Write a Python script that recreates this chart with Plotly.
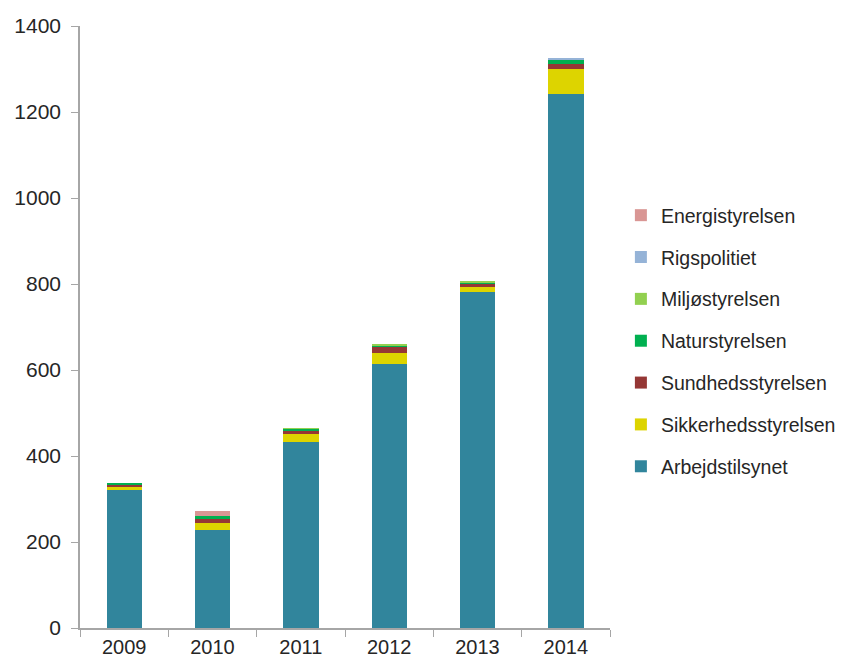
import plotly.graph_objects as go

years = ["2009", "2010", "2011", "2012", "2013", "2014"]
series_names = ["Arbejdstilsynet", "Sikkerhedsstyrelsen", "Sundhedsstyrelsen",
                "Naturstyrelsen", "Miljøstyrelsen", "Rigspolitiet", "Energistyrelsen"]
arbejdstilsynet = [323, 229, 433, 614, 781, 1242]
sikkerhedsstyrelsen = [4, 16, 18, 26, 12, 58]
sundhedsstyrelsen = [7, 8, 8, 14, 9, 11]
naturstyrelsen = [2, 8, 4, 2, 2, 11]
miljostyrelsen = [0, 0, 2, 3, 2, 0]
rigspolitiet = [0, 0, 0, 0, 0, 4]
energistyrelsen = [0, 12, 0, 0, 0, 0]
values = [arbejdstilsynet, sikkerhedsstyrelsen, sundhedsstyrelsen,
          naturstyrelsen, miljostyrelsen, rigspolitiet, energistyrelsen]
colors = ["#31859C", "#DDD400", "#953735", "#00B050", "#92D050", "#95B3D7", "#D99694"]

fig = go.Figure()
for i, (name, vals, col) in enumerate(zip(series_names, values, colors)):
    fig.add_trace(go.Bar(x=years, y=vals, name=name, marker_color=col,
                         marker_line_width=0, legendgroup=name,
                         legendrank=1000 - i))

font = "Liberation Sans, Arial, sans-serif"
fig.update_layout(
    barmode="stack",
    bargap=0.6,
    width=835, height=650,
    paper_bgcolor="white", plot_bgcolor="white",
    margin=dict(l=72, r=233, t=18, b=30, autoexpand=False),
    font=dict(family=font, size=20, color="#262626"),
    legend=dict(tracegroupgap=13.5, xref="container", yref="container",
                x=0.734, xanchor="left", y=0.4877, yanchor="middle",
                font=dict(size=19.5, color="#262626"), itemwidth=30),
    showlegend=True,
)
fig.update_yaxes(range=[0, 1400], dtick=200, showline=True, linecolor="#A6A6A6",
                 linewidth=1.5, ticks="outside", ticklen=7, tickcolor="#A6A6A6",
                 showgrid=False, zeroline=False, tickfont=dict(size=21),
                 automargin=False, ticklabelstandoff=6)
fig.update_xaxes(showline=True, linecolor="#A6A6A6", linewidth=1.5,
                 ticks="outside", ticklen=7, tickcolor="#A6A6A6",
                 tickson="boundaries", showgrid=False, tickfont=dict(size=20),
                 automargin=False, ticklabelstandoff=0)

fig.write_html("out.html")
